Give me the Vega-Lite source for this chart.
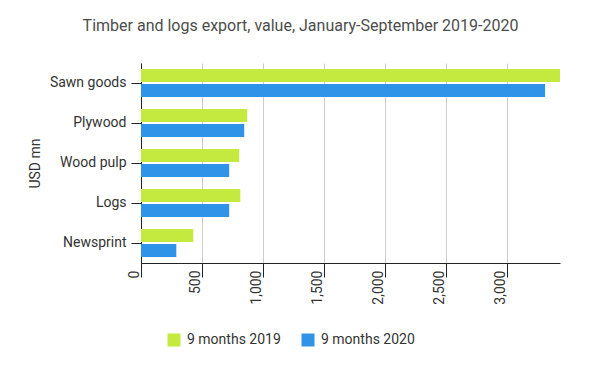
{
  "$schema": "https://vega.github.io/schema/vega-lite/v6.json",
  "width": 419,
  "height": 200,
  "autosize": {"type": "none"},
  "padding": {"left": 141, "top": 63, "right": 53, "bottom": 107},
  "background": "white",
  "title": {
    "text": "Timber and logs export, value, January-September 2019-2020",
    "anchor": "middle",
    "dx": -50,
    "offset": 29,
    "fontSize": 16,
    "font": "Roboto",
    "fontWeight": "normal",
    "color": "#4d4d4d"
  },
  "data": {
    "values": [
      {"product": "Sawn goods", "period": "9 months 2019", "value": 3430},
      {"product": "Sawn goods", "period": "9 months 2020", "value": 3308},
      {"product": "Plywood", "period": "9 months 2019", "value": 870},
      {"product": "Plywood", "period": "9 months 2020", "value": 845},
      {"product": "Wood pulp", "period": "9 months 2019", "value": 804},
      {"product": "Wood pulp", "period": "9 months 2020", "value": 722},
      {"product": "Logs", "period": "9 months 2019", "value": 813},
      {"product": "Logs", "period": "9 months 2020", "value": 722},
      {"product": "Newsprint", "period": "9 months 2019", "value": 428},
      {"product": "Newsprint", "period": "9 months 2020", "value": 289}
    ]
  },
  "mark": {"type": "bar"},
  "encoding": {
    "y": {
      "field": "product",
      "type": "nominal",
      "sort": ["Sawn goods", "Plywood", "Wood pulp", "Logs", "Newsprint"],
      "scale": {"paddingInner": 0.3, "paddingOuter": 0.15},
      "axis": {
        "title": "USD mn",
        "titleFont": "Roboto",
        "titleFontSize": 14,
        "titleFontWeight": "normal",
        "titleColor": "#333",
        "titleX": -106,
        "titleY": 100,
        "titleAngle": -90,
        "titleAlign": "center",
        "titleBaseline": "middle",
        "labelFont": "Roboto",
        "labelFontSize": 14,
        "labelColor": "#333",
        "tickSize": 10,
        "tickColor": "#222",
        "domainColor": "#222",
        "labelPadding": 5
      }
    },
    "yOffset": {
      "field": "period",
      "sort": ["9 months 2019", "9 months 2020"],
      "scale": {"paddingInner": 0.1333, "paddingOuter": 0}
    },
    "x": {
      "field": "value",
      "type": "quantitative",
      "scale": {"domain": [0, 3430], "nice": false},
      "axis": {
        "title": null,
        "values": [0, 500, 1000, 1500, 2000, 2500, 3000],
        "format": ",.0f",
        "labelAngle": -90,
        "labelAlign": "right",
        "labelBaseline": "bottom",
        "labelFlush": false,
        "labelOverlap": false,
        "labelFont": "Roboto",
        "labelFontSize": 14,
        "labelColor": "#333",
        "tickSize": 14,
        "labelPadding": -7,
        "tickColor": "#222",
        "domainColor": "#222",
        "grid": true,
        "gridColor": "#cccccc"
      }
    },
    "color": {
      "field": "period",
      "type": "nominal",
      "scale": {"domain": ["9 months 2019", "9 months 2020"], "range": ["#c5ea3f", "#2f93e8"]},
      "legend": {
        "title": null,
        "orient": "none",
        "legendX": 26,
        "legendY": 270,
        "direction": "horizontal",
        "symbolType": "square",
        "symbolSize": 169,
        "symbolStrokeWidth": 0,
        "labelFont": "Roboto",
        "labelFontSize": 14,
        "labelColor": "#333",
        "labelOffset": 6,
        "columnPadding": 20
      }
    }
  },
  "config": {"view": {"stroke": null}}
}
